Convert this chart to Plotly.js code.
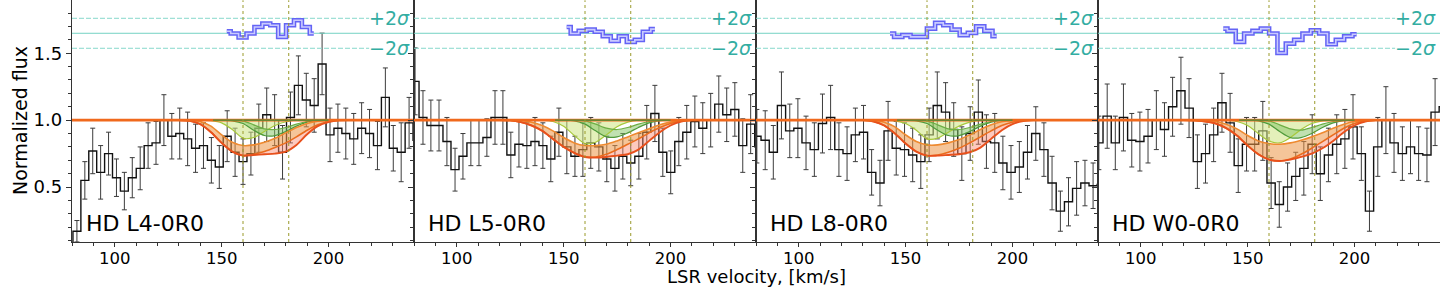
<!DOCTYPE html>
<html><head><meta charset="utf-8">
<script src="https://cdn.plot.ly/plotly-3.0.1.min.js"></script>
<style>html,body{margin:0;padding:0;background:#fff;}#chart{width:1440px;height:288px;}</style>
</head><body><div id="chart"></div>
<script>
// ---------------- data ----------------
const panelNames = ['HD L4-0R0', 'HD L5-0R0', 'HD L8-0R0', 'HD W0-0R0'];

const vel1 = [78.6,82.3,86.0,89.7,93.4,97.1,100.8,104.5,108.2,111.9,115.6,119.3,123.0,126.7,130.4,134.1,137.8,141.5,145.2,148.9,152.6,156.3,160.0,163.7,167.4,171.1,174.8,178.5,182.2,185.9,189.6,193.3,197.0,200.7,204.4,208.1,211.8,215.5,219.2,222.9,226.6,230.3,234.0,237.7,241.4];
const flux1 = [0.04,0.17,0.55,0.77,0.61,0.75,0.57,0.47,0.57,0.64,0.81,0.83,1.00,0.88,0.90,0.86,0.79,0.81,0.70,0.65,0.88,0.76,0.69,0.75,0.94,1.04,1.00,0.76,1.02,1.26,1.15,1.11,1.42,0.89,0.94,0.90,0.86,0.94,0.90,0.81,1.17,0.79,0.76,0.98,0.85];
const err1 = [0.08,0.08,0.14,0.17,0.2,0.16,0.14,0.14,0.15,0.16,0.17,0.16,0.19,0.17,0.19,0.2,0.18,0.17,0.17,0.16,0.19,0.18,0.17,0.16,0.18,0.2,0.19,0.2,0.19,0.22,0.2,0.2,0.23,0.2,0.18,0.19,0.19,0.19,0.18,0.18,0.22,0.17,0.22,0.19,0.2];

const vel2 = [80.5,84.2,87.9,91.7,95.4,99.2,102.9,106.6,110.4,114.1,117.9,121.6,125.3,129.1,132.8,136.6,140.3,144.0,147.8,151.5,155.3,159.0,162.7,166.5,170.2,174.0,177.7,181.4,185.2,188.9,192.7,196.4,200.1,203.9,207.6,211.4,215.1,218.8,222.6,226.3,230.1,233.8,237.5,241.3];
const flux2 = [1.29,1.02,0.96,0.96,0.84,0.63,0.73,0.83,0.83,0.87,1.02,1.02,0.74,0.82,0.81,0.84,0.81,0.71,0.91,0.80,0.73,0.78,0.83,0.80,0.71,0.64,0.73,0.68,0.73,0.91,1.05,0.76,0.61,0.84,0.91,0.99,0.94,1.00,1.12,1.04,1.08,0.81,0.97,0.80];
const err2 = [0.25,0.2,0.19,0.19,0.18,0.16,0.17,0.17,0.17,0.14,0.2,0.2,0.17,0.17,0.17,0.18,0.17,0.17,0.18,0.2,0.15,0.2,0.19,0.18,0.17,0.17,0.17,0.17,0.17,0.2,0.21,0.18,0.16,0.18,0.2,0.19,0.19,0.2,0.21,0.2,0.2,0.2,0.22,0.2];

const vel3 = [80.4,84.3,88.1,91.9,95.8,99.6,103.4,107.3,111.1,114.9,118.8,122.6,126.5,130.3,134.1,138.0,141.8,145.6,149.5,153.3,157.1,161.0,164.8,168.7,172.5,176.3,180.2,184.0,187.8,191.7,195.5,199.3,203.2,207.0,210.9,214.7,218.5,222.4,226.2,230.0,233.9,237.7,241.5];
const flux3 = [0.88,0.85,0.76,1.11,0.92,0.94,0.83,0.78,0.975,1.02,0.78,0.75,0.89,0.91,0.61,0.53,0.92,0.79,0.78,0.74,0.69,0.89,1.11,1.06,0.93,0.75,0.90,1.06,0.84,0.83,0.68,0.61,0.65,0.76,0.90,0.78,0.53,0.32,0.39,0.49,0.53,0.51,0.52];
const err3 = [0.2,0.22,0.2,0.25,0.2,0.22,0.2,0.2,0.22,0.24,0.2,0.2,0.2,0.2,0.17,0.17,0.22,0.2,0.2,0.2,0.2,0.2,0.25,0.22,0.2,0.2,0.2,0.24,0.2,0.22,0.2,0.2,0.19,0.2,0.2,0.2,0.2,0.15,0.18,0.2,0.17,0.17,0.18];

const vel4 = [80.4,84.3,88.1,91.9,95.8,99.6,103.4,107.3,111.1,114.9,118.8,122.6,126.5,130.3,134.1,138.0,141.8,145.6,149.5,153.3,157.1,161.0,164.8,168.7,172.5,176.3,180.2,184.0,187.8,191.7,195.5,199.3,203.2,207.0,210.9,214.7,218.5,222.4,226.2,230.0,233.9,237.7,241.5];
const flux4 = [0.83,1.03,0.83,1.02,0.85,0.84,0.88,1.00,0.93,1.10,1.22,1.09,0.69,0.75,0.89,1.13,0.98,0.66,0.82,0.82,0.92,0.53,0.37,0.50,0.58,0.64,0.82,0.60,0.74,0.82,0.86,0.95,0.75,0.32,0.80,1.00,0.83,0.75,0.80,0.75,0.74,1.06,1.10];
const err4 = [0.2,0.24,0.2,0.25,0.2,0.22,0.2,0.22,0.2,0.22,0.25,0.22,0.2,0.22,0.2,0.22,0.22,0.2,0.2,0.2,0.22,0.19,0.17,0.18,0.18,0.2,0.22,0.2,0.2,0.22,0.22,0.24,0.2,0.15,0.22,0.25,0.22,0.2,0.2,0.2,0.2,0.25,0.22];

// model profiles
const modelVel = [120,125,130,135,140,145,150,155,160,165,170,175,180,185,190,195,200,205,210,215];
const continuumLevel = 1.0;

const upper1 = [1,1,1,1,0.99,0.955,0.89,0.835,0.81,0.815,0.835,0.865,0.905,0.945,0.975,0.993,1,1,1,1];
const mid1   = [1,1,1,0.995,0.97,0.91,0.83,0.765,0.735,0.745,0.765,0.795,0.83,0.875,0.925,0.965,0.99,1,1,1];
const lower1 = [1,1,1,0.995,0.97,0.91,0.83,0.765,0.735,0.74,0.745,0.75,0.765,0.815,0.895,0.955,0.985,0.998,1,1];
const compA1 = [1,1,1,1,1,0.997,0.98,0.93,0.865,0.87,0.915,0.96,0.988,1,1,1,1,1,1,1];
const compBlo1 = [1,1,1,1,1,1,1,0.995,0.975,0.925,0.885,0.885,0.915,0.955,0.985,0.998,1,1,1,1];
const compBhi1 = [1,1,1,1,1,1,1,1,0.995,0.965,0.935,0.93,0.945,0.97,0.99,1,1,1,1,1];

const upper2 = [1,1,0.998,0.985,0.96,0.92,0.87,0.83,0.81,0.81,0.82,0.845,0.875,0.905,0.935,0.965,0.985,0.997,1,1];
const mid2   = [1,0.998,0.985,0.96,0.92,0.86,0.80,0.755,0.725,0.725,0.745,0.78,0.82,0.86,0.905,0.945,0.975,0.993,1,1];
const lower2 = [1,0.998,0.985,0.96,0.92,0.86,0.80,0.755,0.725,0.72,0.725,0.735,0.745,0.78,0.845,0.91,0.96,0.99,1,1];
const compA2 = [1,1,1,1,1,0.99,0.955,0.885,0.825,0.835,0.89,0.95,0.985,1,1,1,1,1,1,1];
const compBlo2 = [1,1,1,1,1,1,1,0.995,0.97,0.92,0.875,0.875,0.905,0.945,0.98,0.997,1,1,1,1];
const compBhi2 = [1,1,1,1,1,1,1,1,0.995,0.97,0.94,0.93,0.945,0.97,0.99,1,1,1,1,1];

const upper3 = [1,1,1,0.998,0.985,0.95,0.89,0.84,0.815,0.815,0.83,0.855,0.89,0.93,0.965,0.988,0.998,1,1,1];
const mid3   = [1,1,1,0.99,0.96,0.9,0.825,0.765,0.735,0.74,0.76,0.79,0.83,0.875,0.92,0.96,0.985,0.998,1,1];
const lower3 = [1,1,1,0.99,0.96,0.9,0.825,0.765,0.735,0.735,0.74,0.745,0.76,0.795,0.86,0.925,0.97,0.993,1,1];
const compA3 = [1,1,1,1,1,0.995,0.975,0.925,0.86,0.865,0.91,0.955,0.985,1,1,1,1,1,1,1];
const compBlo3 = [1,1,1,1,1,1,1,0.995,0.975,0.925,0.885,0.885,0.915,0.955,0.985,0.998,1,1,1,1];
const compBhi3 = [1,1,1,1,1,1,1,1,0.995,0.965,0.935,0.93,0.945,0.97,0.99,1,1,1,1,1];

const upper4 = [1,1,0.998,0.99,0.97,0.935,0.885,0.845,0.825,0.82,0.83,0.85,0.875,0.905,0.94,0.97,0.99,0.998,1,1];
const mid4   = [1,0.998,0.99,0.975,0.94,0.885,0.81,0.745,0.705,0.695,0.71,0.745,0.79,0.84,0.89,0.94,0.975,0.993,1,1];
const lower4 = [1,0.998,0.99,0.975,0.94,0.885,0.81,0.745,0.705,0.695,0.705,0.725,0.75,0.79,0.845,0.91,0.96,0.99,1,1];
const compA4 = [1,1,1,1,1,0.99,0.96,0.9,0.845,0.83,0.87,0.93,0.975,0.995,1,1,1,1,1,1];
const compBlo4 = [1,1,1,1,1,1,1,0.995,0.97,0.915,0.87,0.87,0.9,0.945,0.98,0.997,1,1,1,1];
const compBhi4 = [1,1,1,1,1,1,1,1,0.995,0.965,0.935,0.925,0.945,0.97,0.99,1,1,1,1,1];

// residual-like blue steps at top
const blueVel1 = [152.4,156.1,159.8,163.5,167.2,170.9,174.6,178.3,182.0,185.7,189.4,193.1];
const blueFlux1 = [1.664,1.647,1.617,1.647,1.696,1.721,1.709,1.622,1.709,1.746,1.696,1.647];
const blueVel2 = [151.4,155.2,158.9,162.7,166.4,170.2,173.9,177.7,181.4,185.2,188.9,192.7];
const blueFlux2 = [1.696,1.647,1.667,1.676,1.66,1.627,1.592,1.627,1.585,1.60,1.66,1.68];
const blueVel3 = [142.7,146.5,150.4,154.2,158.0,161.9,165.7,169.5,173.4,177.2,181.0,184.9,188.7,192.6];
const blueFlux3 = [1.647,1.622,1.635,1.622,1.622,1.684,1.727,1.709,1.676,1.635,1.652,1.702,1.667,1.627];
const blueVel4 = [138.6,142.5,146.4,150.3,154.2,158.1,162.0,165.9,169.8,173.7,177.6,181.5,185.4,189.3,193.2,197.1,201.0];
const blueFlux4 = [1.684,1.667,1.585,1.647,1.667,1.684,1.647,1.502,1.572,1.60,1.647,1.672,1.647,1.567,1.60,1.627,1.642];

const sigmaLevels = [1.761, 1.649, 1.537];
const sigmaLabels = ['+2<i>σ</i>', '', '−2<i>σ</i>'];
const compVel = [160.0, 181.4];

// ---------------- drawing ----------------
const FONT = 'DejaVu Sans';
const xRange = [80, 240];
const yRange = [0.0896, 1.8955];
const panelLeft = 72, panelW = 342, W = 1440, H = 288;

const panels = [
  {vel: vel1, flux: flux1, err: err1, up: upper1, mid: mid1, low: lower1, ca: compA1, cblo: compBlo1, cbhi: compBhi1, bv: blueVel1, bf: blueFlux1},
  {vel: vel2, flux: flux2, err: err2, up: upper2, mid: mid2, low: lower2, ca: compA2, cblo: compBlo2, cbhi: compBhi2, bv: blueVel2, bf: blueFlux2},
  {vel: vel3, flux: flux3, err: err3, up: upper3, mid: mid3, low: lower3, ca: compA3, cblo: compBlo3, cbhi: compBhi3, bv: blueVel3, bf: blueFlux3},
  {vel: vel4, flux: flux4, err: err4, up: upper4, mid: mid4, low: lower4, ca: compA4, cblo: compBlo4, cbhi: compBhi4, bv: blueVel4, bf: blueFlux4}
];

const traces = [];
const layout = {
  width: W, height: H, margin: {l: 0, r: 0, t: 0, b: 0},
  paper_bgcolor: '#fff', plot_bgcolor: '#fff', showlegend: false,
  font: {family: FONT, color: '#000'},
  annotations: [], shapes: []
};
const contLine = modelVel.map(() => continuumLevel);

panels.forEach((P, i) => {
  const n = i + 1;
  const xa = n === 1 ? 'x' : 'x' + n;
  const ya = n === 1 ? 'y' : 'y' + n;
  const base = {xaxis: xa, yaxis: ya, hoverinfo: 'skip', showlegend: false};
  const sp = {shape: 'spline', smoothing: 0.8};
  const none = {width: 0, color: 'rgba(0,0,0,0)'};

  // data
  traces.push(Object.assign({}, base, {
    x: P.vel, y: P.flux, mode: 'lines', type: 'scatter',
    line: {shape: 'hvh', color: '#111', width: 1.4},
    error_y: {type: 'data', array: P.err, visible: true, color: '#3c3c3c', thickness: 1, width: 2.5}
  }));

  // fills: tan between upper and mid, salmon between mid and lower
  traces.push(Object.assign({}, base, {x: modelVel, y: P.up, mode: 'lines', line: Object.assign({}, none, sp)}));
  traces.push(Object.assign({}, base, {x: modelVel, y: P.mid, mode: 'lines', fill: 'tonexty', fillcolor: 'rgba(236,150,70,0.55)', line: Object.assign({}, none, sp)}));
  traces.push(Object.assign({}, base, {x: modelVel, y: P.low, mode: 'lines', fill: 'tonexty', fillcolor: 'rgba(250,135,110,0.45)', line: Object.assign({}, none, sp)}));
  // green fills
  traces.push(Object.assign({}, base, {x: modelVel, y: contLine, mode: 'lines', line: none}));
  traces.push(Object.assign({}, base, {x: modelVel, y: P.ca, mode: 'lines', fill: 'tonexty', fillcolor: 'rgba(205,228,130,0.55)', line: Object.assign({}, none, sp)}));
  traces.push(Object.assign({}, base, {x: modelVel, y: P.cbhi, mode: 'lines', line: Object.assign({}, none, sp)}));
  traces.push(Object.assign({}, base, {x: modelVel, y: P.cblo, mode: 'lines', fill: 'tonexty', fillcolor: 'rgba(130,195,100,0.5)', line: Object.assign({}, none, sp)}));

  // model lines
  traces.push(Object.assign({}, base, {x: modelVel, y: P.ca, mode: 'lines', line: Object.assign({width: 1.2, color: '#a8c83c'}, sp)}));
  traces.push(Object.assign({}, base, {x: modelVel, y: P.cbhi, mode: 'lines', line: Object.assign({width: 1.2, color: '#6cae44'}, sp)}));
  traces.push(Object.assign({}, base, {x: modelVel, y: P.cblo, mode: 'lines', line: Object.assign({width: 1.2, color: '#4f9a3a'}, sp)}));
  traces.push(Object.assign({}, base, {x: modelVel, y: P.up, mode: 'lines', line: Object.assign({width: 1.6, color: '#ee8a30'}, sp)}));
  traces.push(Object.assign({}, base, {x: modelVel, y: P.mid, mode: 'lines', line: Object.assign({width: 1.6, color: '#ea6d1e'}, sp)}));
  traces.push(Object.assign({}, base, {x: modelVel, y: P.low, mode: 'lines', line: Object.assign({width: 1.9, color: '#e8501c'}, sp)}));

  // continuum lines
  traces.push(Object.assign({}, base, {x: xRange, y: [continuumLevel, continuumLevel], mode: 'lines', line: {width: 2.8, color: '#f0691c'}}));
  traces.push(Object.assign({}, base, {x: [146, 200], y: [continuumLevel, continuumLevel], mode: 'lines', line: {width: 1.4, color: '#3f8f3a'}}));

  // sigma reference lines
  sigmaLevels.forEach((lev, k) => {
    const solid = (sigmaLabels[k] === '');
    traces.push(Object.assign({}, base, {
      x: solid ? xRange : [80, 219], y: [lev, lev], mode: 'lines',
      line: {width: 1, color: solid ? '#74d2c4' : '#86d8cb', dash: solid ? 'solid' : '5px,2px'}
    }));
    if (!solid) {
      layout.annotations.push({xref: xa, yref: ya, x: 239, y: lev, xanchor: 'right', yanchor: 'middle',
        text: sigmaLabels[k], showarrow: false, font: {family: FONT, size: 19, color: '#33ada2'}});
    }
  });

  // blue steps
  traces.push(Object.assign({}, base, {x: P.bv, y: P.bf, mode: 'lines', line: {shape: 'hvh', width: 4.6, color: '#6464f5'}}));
  traces.push(Object.assign({}, base, {x: P.bv, y: P.bf, mode: 'lines', line: {shape: 'hvh', width: 1.6, color: '#c9caff'}}));

  // component velocity markers
  compVel.forEach(v => {
    layout.shapes.push({type: 'line', xref: xa, yref: ya + ' domain', x0: v, x1: v, y0: 0, y1: 1,
      line: {color: '#9a9a2a', width: 1, dash: 'dot'}});
  });

  // panel label
  layout.annotations.push({xref: xa, yref: ya, x: 85.5, y: 0.225, xanchor: 'left', yanchor: 'middle',
    text: panelNames[i], showarrow: false, font: {family: FONT, size: 22, color: '#000'}});

  const x0 = (panelLeft + panelW * i) / W;
  const x1 = Math.min(1, (panelLeft + panelW * (i + 1)) / W);
  layout['xaxis' + (n === 1 ? '' : n)] = {
    domain: [x0, x1], range: xRange, anchor: ya, showgrid: false, zeroline: false,
    showline: true, mirror: true, linecolor: '#333', linewidth: 1.3,
    ticks: 'outside', ticklen: 4, tickwidth: 1, tickcolor: '#333', ticklabelstandoff: -3,
    tickvals: [100, 150, 200], ticktext: ['100', '150', '200'],
    minor: {dtick: 10, tick0: 0, ticks: 'outside', ticklen: 3, tickcolor: '#333', showgrid: false},
    tickfont: {family: FONT, size: 16.5, color: '#000'}, fixedrange: true
  };
  layout['yaxis' + (n === 1 ? '' : n)] = {
    domain: [46 / H, 0.999], range: yRange, anchor: xa, showgrid: false, zeroline: false,
    showline: true, mirror: true, linecolor: '#333', linewidth: 1.3,
    ticks: 'outside', ticklen: 5, tickwidth: 1, tickcolor: '#333',
    tickvals: [0.5, 1.0, 1.5], ticktext: ['0.5', '1.0', '1.5'], showticklabels: n === 1,
    minor: {dtick: 0.1, tick0: 0, ticks: 'outside', ticklen: 3, tickcolor: '#333', showgrid: false},
    tickfont: {family: FONT, size: 18, color: '#000'}, fixedrange: true
  };
});

// axis titles
layout.annotations.push({xref: 'paper', yref: 'paper', x: 20 / W, y: (H - 121) / H, textangle: -90,
  xanchor: 'center', yanchor: 'middle', text: 'Normalized flux', showarrow: false,
  font: {family: FONT, size: 19, color: '#000'}});
layout.annotations.push({xref: 'paper', yref: 'paper', x: 756 / W, y: 0.0,
  xanchor: 'center', yanchor: 'bottom', text: 'LSR velocity, [km/s]', showarrow: false, borderpad: 0,
  font: {family: FONT, size: 18, color: '#000'}});

Plotly.newPlot('chart', traces, layout, {staticPlot: true, displayModeBar: false});
</script>
</body></html>
